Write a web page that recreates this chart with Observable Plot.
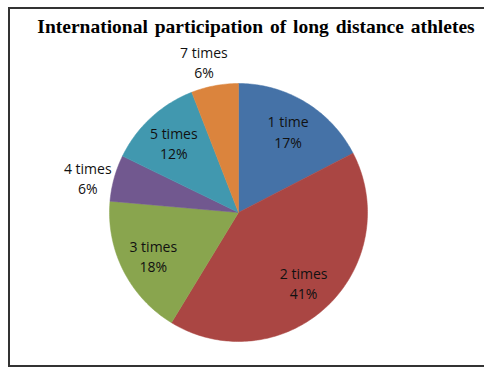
<!DOCTYPE html>
<html>
<head>
<meta charset="utf-8">
<script src="https://cdn.jsdelivr.net/npm/d3@7"></script>
<script src="https://cdn.jsdelivr.net/npm/@observablehq/plot@0.6"></script>
<style>
  html, body { margin: 0; padding: 0; background: #fff; overflow: hidden; }
  #wrap { position: relative; width: 484px; height: 370px; overflow: hidden; }
  #frame { position: absolute; left: 8px; top: 7px; width: 520px; height: 356px; border: 2px solid #333; box-sizing: content-box; }
  #title { position: absolute; left: 0; top: 16px; width: 512px; text-align: center; font-family: "Liberation Serif", "Times New Roman", serif; font-weight: bold; font-size: 19.5px; color: #000; white-space: nowrap; word-spacing: 2px; }
  #chart { position: absolute; left: 0; top: 0; }
</style>
</head>
<body>
<div id="wrap">
  <div id="frame"></div>
  <div id="chart"></div>
  <div id="title">International participation of long distance athletes</div>
</div>
<script>
// Data (share of athletes, %)
const categories = ["1 time", "2 times", "3 times", "4 times", "5 times", "7 times"];
const shares = [17.4, 41.3, 17.7, 5.8, 11.9, 5.9];
const colors = ["#4572A7", "#AA4643", "#89A54E", "#71588F", "#4198AF", "#DB843D"];

const W = 484, H = 370, CX = 238, CY = 212, R = 129;

// Build slice geometry in unit-circle coordinates (clockwise from 12 o'clock)
const total = d3.sum(shares);
const slices = [];
let acc = 0;
categories.forEach((c, i) => {
  const a0 = acc / total * 2 * Math.PI;
  acc += shares[i];
  const a1 = acc / total * 2 * Math.PI;
  slices.push({category: c, share: shares[i], a0, a1});
});

const polyPoints = [];
for (const s of slices) {
  polyPoints.push({category: s.category, x: 0, y: 0});
  const n = Math.max(2, Math.ceil((s.a1 - s.a0) / (Math.PI / 180)));
  for (let k = 0; k <= n; k++) {
    const a = s.a0 + (s.a1 - s.a0) * k / n;
    polyPoints.push({category: s.category, x: Math.sin(a), y: Math.cos(a)});
  }
  polyPoints.push({category: s.category, x: 0, y: 0});
}

const labels = slices.map(s => {
  const m = (s.a0 + s.a1) / 2 - (s.share >= 10 ? 0 : 0.04);
  const r = s.share >= 10 ? 0.74 : 1.2;
  return {category: s.category, x: r * Math.sin(m), y: r * Math.cos(m),
          text: `${s.category}\n${Math.round(s.share)}%`};
});

const plot = Plot.plot({
  width: W, height: H,
  marginLeft: 0, marginRight: 0, marginTop: 0, marginBottom: 0,
  x: {domain: [-CX / R, (W - CX) / R], range: [0, W], axis: null},
  y: {domain: [(CY - H) / R, CY / R], range: [H, 0], axis: null},
  color: {type: "ordinal", domain: categories, range: colors, legend: false},
  style: {background: "transparent"},
  marks: [
    Plot.line(polyPoints, {x: "x", y: "y", z: "category", fill: "category", stroke: "category", strokeWidth: 0.5, curve: "linear-closed"}),
    Plot.text(labels, {x: "x", y: "y", text: "text", fontSize: 14, lineHeight: 1.45, fill: "#111",
      fontFamily: "'Open Sans', sans-serif", textAnchor: "middle"})
  ]
});
document.getElementById("chart").appendChild(plot);
</script>
</body>
</html>
